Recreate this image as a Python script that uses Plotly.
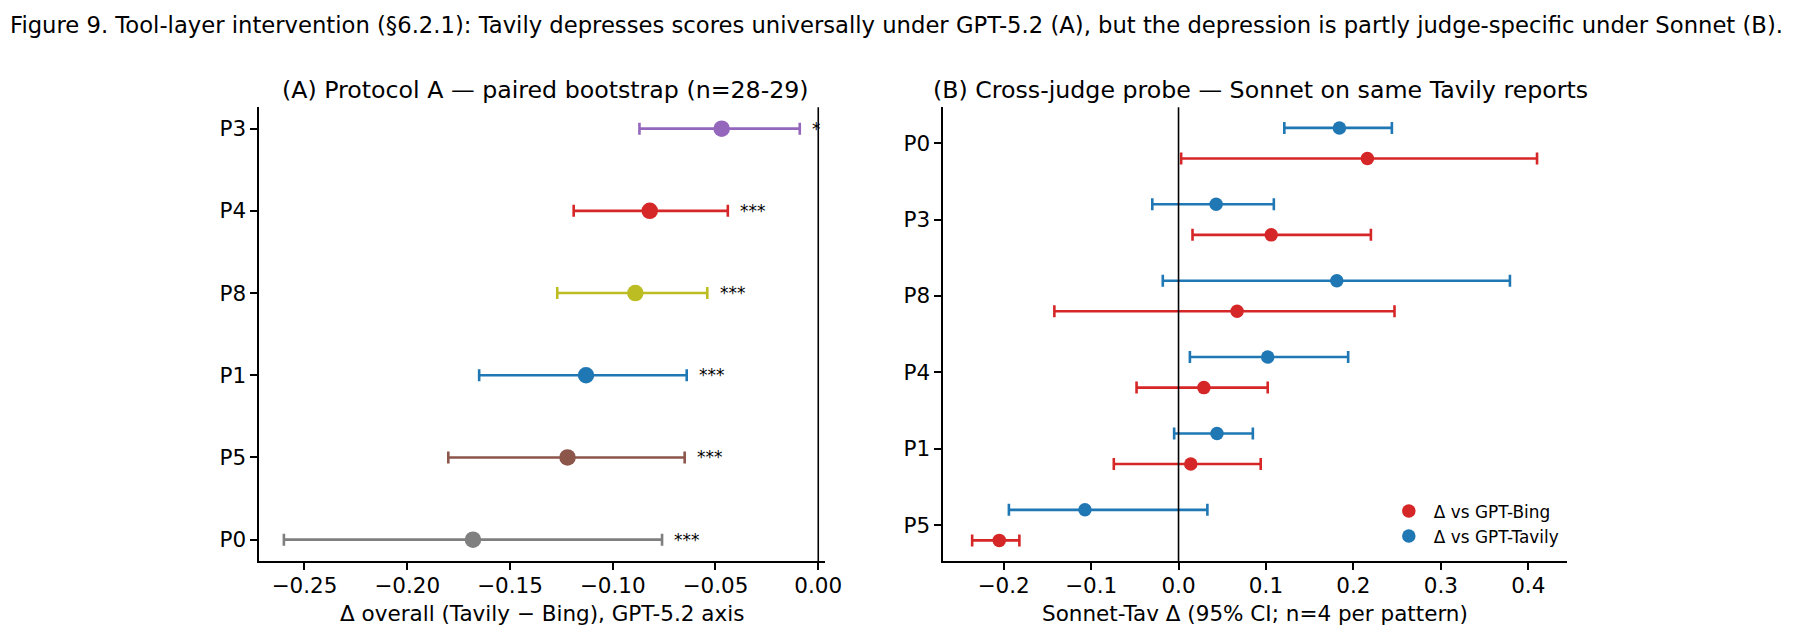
import plotly.graph_objects as go

# ---------------- data ----------------
patterns_A = ["P0", "P5", "P1", "P8", "P4", "P3"]          # bottom -> top
delta_A = [-0.168, -0.122, -0.113, -0.089, -0.082, -0.047]
lo_A = [-0.260, -0.180, -0.165, -0.127, -0.119, -0.087]
hi_A = [-0.076, -0.065, -0.064, -0.054, -0.044, -0.009]
stars_A = ["***", "***", "***", "***", "***", "*"]
colors_A = ["#7f7f7f", "#8c564b", "#1f77b4", "#bcbd22", "#d62728", "#9467bd"]

patterns_B = ["P5", "P1", "P4", "P8", "P3", "P0"]          # bottom -> top
bing_mean = [-0.205, 0.014, 0.029, 0.067, 0.106, 0.216]
bing_lo = [-0.236, -0.074, -0.048, -0.142, 0.016, 0.003]
bing_hi = [-0.182, 0.094, 0.102, 0.247, 0.220, 0.410]
tav_mean = [-0.107, 0.044, 0.102, 0.181, 0.043, 0.184]
tav_lo = [-0.194, -0.005, 0.013, -0.018, -0.030, 0.121]
tav_hi = [0.033, 0.085, 0.194, 0.379, 0.109, 0.244]

ticks_A = [-0.25, -0.20, -0.15, -0.10, -0.05, 0.00]
ticks_B = [-0.2, -0.1, 0.0, 0.1, 0.2, 0.3, 0.4]

FONT = "DejaVu Sans"
W, H = 1800, 639
BLACK = "#000000"
TICK_FS = 21.5
LABEL_FS = 21.5
TITLE_FS = 23.7
SUP_FS = 22.7
SMALL_FS = 16.9


def fmt(v, nd):
    s = f"{v:.{nd}f}"
    return s.replace("-", "\u2212")


fig = go.Figure()

# ---------------- panel A ----------------
for i, p in enumerate(patterns_A):
    fig.add_trace(go.Scatter(
        x=[delta_A[i]], y=[i], mode="markers",
        marker=dict(size=16.5, color=colors_A[i]),
        error_x=dict(type="data", symmetric=False,
                     array=[hi_A[i] - delta_A[i]],
                     arrayminus=[delta_A[i] - lo_A[i]],
                     color=colors_A[i], thickness=2.6, width=6),
        xaxis="x", yaxis="y", showlegend=False, hoverinfo="skip"))
    fig.add_annotation(x=hi_A[i] + 0.005, y=i, xref="x", yref="y",
                       text=stars_A[i], showarrow=False, xanchor="left",
                       yanchor="middle", yshift=0,
                       font=dict(family=FONT, size=SMALL_FS, color=BLACK))

# ---------------- panel B ----------------
OFF = 0.2
fig.add_trace(go.Scatter(
    x=bing_mean, y=[i - OFF for i in range(len(patterns_B))], mode="markers",
    name="\u0394 vs GPT-Bing",
    marker=dict(size=13.5, color="#d62728"),
    error_x=dict(type="data", symmetric=False,
                 array=[h - m for h, m in zip(bing_hi, bing_mean)],
                 arrayminus=[m - l for m, l in zip(bing_mean, bing_lo)],
                 color="#d62728", thickness=2.6, width=6),
    xaxis="x2", yaxis="y2", hoverinfo="skip"))
fig.add_trace(go.Scatter(
    x=tav_mean, y=[i + OFF for i in range(len(patterns_B))], mode="markers",
    name="\u0394 vs GPT-Tavily",
    marker=dict(size=13.5, color="#1f77b4"),
    error_x=dict(type="data", symmetric=False,
                 array=[h - m for h, m in zip(tav_hi, tav_mean)],
                 arrayminus=[m - l for m, l in zip(tav_mean, tav_lo)],
                 color="#1f77b4", thickness=2.6, width=6),
    xaxis="x2", yaxis="y2", hoverinfo="skip"))

# zero lines
for xr, yr in (("x", "y"), ("x2", "y2")):
    fig.add_shape(type="line", xref=xr, yref=f"{yr} domain", x0=0, x1=0,
                  y0=0, y1=1, line=dict(color=BLACK, width=1.6), layer="above")

# ---------------- layout ----------------
xA = [261.7 / W, 832.7 / W]
xB = [952.3 / W, 1581.7 / W]
yD = [(H - 561) / H, (H - 107.3) / H]

axis_common = dict(showline=True, linecolor=BLACK, linewidth=1.7, ticks="outside",
                   ticklen=7, tickwidth=1.7, tickcolor=BLACK, showgrid=False,
                   zeroline=False, tickfont=dict(family=FONT, size=TICK_FS, color=BLACK))

fig.update_layout(
    width=W, height=H, margin=dict(l=0, r=0, t=0, b=0),
    paper_bgcolor="white", plot_bgcolor="white",
    font=dict(family=FONT, color=BLACK),
    xaxis=dict(domain=xA, anchor="y", range=[-0.272, 0.0032], ticklabelstandoff=-3,
               tickvals=ticks_A, ticktext=[fmt(v, 2) for v in ticks_A], **axis_common),
    yaxis=dict(domain=yD, anchor="x", range=[-0.26, 5.26],
               tickvals=list(range(len(patterns_A))), ticktext=patterns_A, **axis_common),
    xaxis2=dict(domain=xB, anchor="y2", range=[-0.269, 0.444], ticklabelstandoff=-3,
                tickvals=ticks_B, ticktext=[fmt(v, 1) for v in ticks_B], **axis_common),
    yaxis2=dict(domain=yD, anchor="x2", range=[-0.47, 5.47],
                tickvals=list(range(len(patterns_B))), ticktext=patterns_B, **axis_common),
    showlegend=True,
    legend=dict(x=1397 / W, y=(H - 493.5) / H, xanchor="left", yanchor="top",
                bgcolor="rgba(0,0,0,0)", borderwidth=0, itemwidth=40,
                font=dict(family=FONT, size=SMALL_FS, color=BLACK)),
)

# titles
fig.add_annotation(x=(900 + 5) / W, y=(H - 25) / H, xref="paper", yref="paper",
                   text="Figure 9. Tool-layer intervention (\u00a76.2.1): Tavily depresses scores universally under GPT-5.2 (A), but the depression is partly judge-specific under Sonnet (B).",
                   showarrow=False, xanchor="center", yanchor="middle",
                   font=dict(family=FONT, size=SUP_FS, color=BLACK))
fig.add_annotation(x=(xA[0] + xA[1]) / 2 + 4 / W, y=(H - 90) / H, xref="paper", yref="paper",
                   text="(A) Protocol A \u2014 paired bootstrap (n=28-29)",
                   showarrow=False, xanchor="center", yanchor="middle",
                   font=dict(family=FONT, size=TITLE_FS, color=BLACK))
fig.add_annotation(x=(xB[0] + xB[1]) / 2 + 6 / W, y=(H - 90) / H, xref="paper", yref="paper",
                   text="(B) Cross-judge probe \u2014 Sonnet on same Tavily reports",
                   showarrow=False, xanchor="center", yanchor="middle",
                   font=dict(family=FONT, size=TITLE_FS, color=BLACK))
# axis labels
fig.add_annotation(x=(xA[0] + xA[1]) / 2, y=(H - 613) / H, xref="paper", yref="paper",
                   text="\u0394 overall (Tavily \u2212 Bing), GPT-5.2 axis",
                   showarrow=False, xanchor="center", yanchor="middle",
                   font=dict(family=FONT, size=LABEL_FS, color=BLACK))
fig.add_annotation(x=(xB[0] + xB[1]) / 2, y=(H - 613) / H, xref="paper", yref="paper",
                   text="Sonnet-Tav \u0394 (95% CI; n=4 per pattern)",
                   showarrow=False, xanchor="center", yanchor="middle",
                   font=dict(family=FONT, size=LABEL_FS, color=BLACK))

fig.write_html("out.html")
